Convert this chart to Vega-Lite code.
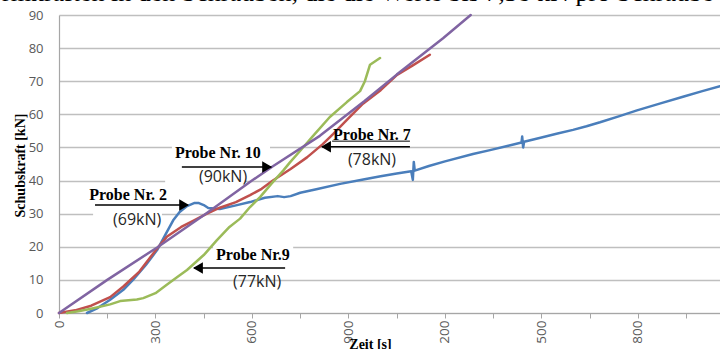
{
  "$schema": "https://vega.github.io/schema/vega-lite/v6.json",
  "width": 661,
  "height": 298,
  "autosize": {"type": "none"},
  "padding": {"left": 59, "top": 15, "right": 0, "bottom": 36},
  "background": "white",
  "config": {"view": {"stroke": null}},
  "title": {
    "text": "rmkräften in den Schrauben, die die Werte bis 7,38 kN pro Schraube",
    "anchor": "start",
    "frame": "group",
    "font": "Liberation Serif",
    "fontSize": 26,
    "fontWeight": "normal",
    "color": "black",
    "baseline": "alphabetic",
    "offset": 0,
    "dx": -57,
    "dy": 18
  },
  "datasets": {
    "curves": [
      {"probe": "Probe Nr. 2", "t": 87, "f": 0},
      {"probe": "Probe Nr. 2", "t": 120, "f": 1.5},
      {"probe": "Probe Nr. 2", "t": 159, "f": 4},
      {"probe": "Probe Nr. 2", "t": 200, "f": 7},
      {"probe": "Probe Nr. 2", "t": 230, "f": 10},
      {"probe": "Probe Nr. 2", "t": 270, "f": 14.5},
      {"probe": "Probe Nr. 2", "t": 305, "f": 19},
      {"probe": "Probe Nr. 2", "t": 330, "f": 23.5},
      {"probe": "Probe Nr. 2", "t": 355, "f": 28},
      {"probe": "Probe Nr. 2", "t": 375, "f": 30.5},
      {"probe": "Probe Nr. 2", "t": 398, "f": 32.3},
      {"probe": "Probe Nr. 2", "t": 420, "f": 33.2},
      {"probe": "Probe Nr. 2", "t": 435, "f": 33.2},
      {"probe": "Probe Nr. 2", "t": 450, "f": 32.6},
      {"probe": "Probe Nr. 2", "t": 464, "f": 31.7},
      {"probe": "Probe Nr. 2", "t": 500, "f": 31.4},
      {"probe": "Probe Nr. 2", "t": 550, "f": 32.5},
      {"probe": "Probe Nr. 2", "t": 594, "f": 33.5},
      {"probe": "Probe Nr. 2", "t": 640, "f": 34.8},
      {"probe": "Probe Nr. 2", "t": 680, "f": 35.3},
      {"probe": "Probe Nr. 2", "t": 700, "f": 35},
      {"probe": "Probe Nr. 2", "t": 720, "f": 35.3},
      {"probe": "Probe Nr. 2", "t": 750, "f": 36.3},
      {"probe": "Probe Nr. 2", "t": 800, "f": 37.4},
      {"probe": "Probe Nr. 2", "t": 874, "f": 39},
      {"probe": "Probe Nr. 2", "t": 950, "f": 40.4},
      {"probe": "Probe Nr. 2", "t": 1000, "f": 41.3},
      {"probe": "Probe Nr. 2", "t": 1050, "f": 42.1},
      {"probe": "Probe Nr. 2", "t": 1095, "f": 42.8},
      {"probe": "Probe Nr. 2", "t": 1100, "f": 40.2},
      {"probe": "Probe Nr. 2", "t": 1103, "f": 45.6},
      {"probe": "Probe Nr. 2", "t": 1106, "f": 43},
      {"probe": "Probe Nr. 2", "t": 1150, "f": 44.4},
      {"probe": "Probe Nr. 2", "t": 1200, "f": 45.8},
      {"probe": "Probe Nr. 2", "t": 1287, "f": 48},
      {"probe": "Probe Nr. 2", "t": 1340, "f": 49.2},
      {"probe": "Probe Nr. 2", "t": 1400, "f": 50.6},
      {"probe": "Probe Nr. 2", "t": 1438, "f": 51.5},
      {"probe": "Probe Nr. 2", "t": 1440, "f": 53.3},
      {"probe": "Probe Nr. 2", "t": 1443, "f": 50},
      {"probe": "Probe Nr. 2", "t": 1446, "f": 51.7},
      {"probe": "Probe Nr. 2", "t": 1500, "f": 53},
      {"probe": "Probe Nr. 2", "t": 1550, "f": 54.2},
      {"probe": "Probe Nr. 2", "t": 1598, "f": 55.3},
      {"probe": "Probe Nr. 2", "t": 1640, "f": 56.4},
      {"probe": "Probe Nr. 2", "t": 1682, "f": 57.6},
      {"probe": "Probe Nr. 2", "t": 1740, "f": 59.4},
      {"probe": "Probe Nr. 2", "t": 1797, "f": 61.2},
      {"probe": "Probe Nr. 2", "t": 1870, "f": 63.3},
      {"probe": "Probe Nr. 2", "t": 1940, "f": 65.3},
      {"probe": "Probe Nr. 2", "t": 2000, "f": 67},
      {"probe": "Probe Nr. 2", "t": 2055, "f": 68.5},

      {"probe": "Probe Nr. 7", "t": 0, "f": 0},
      {"probe": "Probe Nr. 7", "t": 50, "f": 0.8},
      {"probe": "Probe Nr. 7", "t": 100, "f": 2.2},
      {"probe": "Probe Nr. 7", "t": 159, "f": 4.8},
      {"probe": "Probe Nr. 7", "t": 200, "f": 8},
      {"probe": "Probe Nr. 7", "t": 250, "f": 12.5},
      {"probe": "Probe Nr. 7", "t": 305, "f": 19.5},
      {"probe": "Probe Nr. 7", "t": 335, "f": 23},
      {"probe": "Probe Nr. 7", "t": 380, "f": 26},
      {"probe": "Probe Nr. 7", "t": 420, "f": 28},
      {"probe": "Probe Nr. 7", "t": 460, "f": 30},
      {"probe": "Probe Nr. 7", "t": 500, "f": 31.8},
      {"probe": "Probe Nr. 7", "t": 550, "f": 33.5},
      {"probe": "Probe Nr. 7", "t": 594, "f": 35.6},
      {"probe": "Probe Nr. 7", "t": 630, "f": 37.5},
      {"probe": "Probe Nr. 7", "t": 665, "f": 40},
      {"probe": "Probe Nr. 7", "t": 720, "f": 43.5},
      {"probe": "Probe Nr. 7", "t": 771, "f": 47},
      {"probe": "Probe Nr. 7", "t": 820, "f": 51},
      {"probe": "Probe Nr. 7", "t": 852, "f": 54},
      {"probe": "Probe Nr. 7", "t": 895, "f": 58.3},
      {"probe": "Probe Nr. 7", "t": 945, "f": 63.2},
      {"probe": "Probe Nr. 7", "t": 1000, "f": 67.3},
      {"probe": "Probe Nr. 7", "t": 1051, "f": 71.9},
      {"probe": "Probe Nr. 7", "t": 1100, "f": 74.8},
      {"probe": "Probe Nr. 7", "t": 1153, "f": 78},

      {"probe": "Probe Nr.9", "t": 25, "f": 0},
      {"probe": "Probe Nr.9", "t": 60, "f": 0.5},
      {"probe": "Probe Nr.9", "t": 100, "f": 1.3},
      {"probe": "Probe Nr.9", "t": 159, "f": 2.6},
      {"probe": "Probe Nr.9", "t": 190, "f": 3.6},
      {"probe": "Probe Nr.9", "t": 242, "f": 4.1},
      {"probe": "Probe Nr.9", "t": 262, "f": 4.5},
      {"probe": "Probe Nr.9", "t": 300, "f": 6},
      {"probe": "Probe Nr.9", "t": 335, "f": 8.5},
      {"probe": "Probe Nr.9", "t": 370, "f": 11},
      {"probe": "Probe Nr.9", "t": 398, "f": 13},
      {"probe": "Probe Nr.9", "t": 450, "f": 17.5},
      {"probe": "Probe Nr.9", "t": 491, "f": 22},
      {"probe": "Probe Nr.9", "t": 530, "f": 26},
      {"probe": "Probe Nr.9", "t": 563, "f": 28.5},
      {"probe": "Probe Nr.9", "t": 594, "f": 32},
      {"probe": "Probe Nr.9", "t": 625, "f": 35},
      {"probe": "Probe Nr.9", "t": 660, "f": 39},
      {"probe": "Probe Nr.9", "t": 697, "f": 43},
      {"probe": "Probe Nr.9", "t": 718, "f": 45.5},
      {"probe": "Probe Nr.9", "t": 750, "f": 49},
      {"probe": "Probe Nr.9", "t": 790, "f": 53.5},
      {"probe": "Probe Nr.9", "t": 842, "f": 59.2},
      {"probe": "Probe Nr.9", "t": 895, "f": 63.7},
      {"probe": "Probe Nr.9", "t": 936, "f": 67},
      {"probe": "Probe Nr.9", "t": 951, "f": 70},
      {"probe": "Probe Nr.9", "t": 967, "f": 75},
      {"probe": "Probe Nr.9", "t": 998, "f": 77},

      {"probe": "Probe Nr. 10", "t": 0, "f": 0},
      {"probe": "Probe Nr. 10", "t": 150, "f": 10},
      {"probe": "Probe Nr. 10", "t": 305, "f": 19.8},
      {"probe": "Probe Nr. 10", "t": 450, "f": 29.5},
      {"probe": "Probe Nr. 10", "t": 600, "f": 40},
      {"probe": "Probe Nr. 10", "t": 665, "f": 44.3},
      {"probe": "Probe Nr. 10", "t": 811, "f": 53.5},
      {"probe": "Probe Nr. 10", "t": 950, "f": 64},
      {"probe": "Probe Nr. 10", "t": 1050, "f": 72},
      {"probe": "Probe Nr. 10", "t": 1194, "f": 83},
      {"probe": "Probe Nr. 10", "t": 1280, "f": 90}
    ],
    "boxes": [
      {"t": 351, "t2": 656, "f": 45.5, "f2": 51.5},
      {"t": 330, "t2": 578, "f": 38.5, "f2": 43.4},
      {"t": 479, "t2": 728, "f": 15.5, "f2": 22.5},
      {"t": 106, "t2": 320, "f": 26, "f2": 30.5}
    ],
    "arrows": [
      {"t": 382, "t2": 660, "f": 44.1, "w": "arrow"},
      {"t": 112, "t2": 400, "f": 32.6, "w": "arrow"},
      {"t": 420, "t2": 703, "f": 13.6, "w": "arrow"},
      {"t": 818, "t2": 1091, "f": 50.2, "w": "arrow"},
      {"t": 849, "t2": 1091, "f": 51.9, "w": "underline"}
    ],
    "heads": [
      {"t": 647, "f": 44.1, "dir": "right"},
      {"t": 389, "f": 32.6, "dir": "right"},
      {"t": 432, "f": 13.6, "dir": "left"},
      {"t": 830, "f": 50.2, "dir": "left"}
    ],
    "names": [
      {"label": "Probe Nr. 10", "t": 494, "f": 48.3},
      {"label": "Probe Nr. 2", "t": 215, "f": 35.6},
      {"label": "Probe Nr.9", "t": 603, "f": 17.5},
      {"label": "Probe Nr. 7", "t": 973, "f": 53.8}
    ],
    "values": [
      {"label": "(90kN)", "t": 510, "f": 41.1},
      {"label": "(69kN)", "t": 243, "f": 28.1},
      {"label": "(77kN)", "t": 616, "f": 9.4},
      {"label": "(78kN)", "t": 973, "f": 46.2}
    ]
  },
  "encoding": {
    "x": {
      "field": "t",
      "type": "quantitative",
      "scale": {"domain": [0, 2055], "nice": false, "zero": false},
      "axis": {
        "values": [0, 150, 300, 450, 600, 750, 900, 1050, 1200, 1350, 1500, 1650, 1800, 1950],
        "labelExpr": "datum.value % 300 == 0 ? (datum.value >= 1000 ? floor(datum.value/1000) + ' ' + format(datum.value % 1000, '03d') : '' + datum.value) : ''",
        "labelAngle": -90,
        "labelFont": "Open Sans",
        "labelFontSize": 13.5,
        "labelColor": "#595959",
        "labelPadding": 2,
        "labelOverlap": false,
        "labelBound": false,
        "labelFlush": false,
        "ticks": true,
        "tickSize": 5,
        "tickColor": "#a6a6a6",
        "domainColor": "#a6a6a6",
        "domainWidth": 1.2,
        "grid": false,
        "title": "Zeit [s]",
        "titleFont": "Liberation Serif",
        "titleFontSize": 14,
        "titleFontWeight": "bold",
        "titleColor": "black",
        "titleX": 311,
        "titleY": 35,
        "titleAlign": "center",
        "titleBaseline": "alphabetic"
      }
    },
    "y": {
      "field": "f",
      "type": "quantitative",
      "scale": {"domain": [0, 90], "nice": false, "zero": true},
      "axis": {
        "values": [0, 10, 20, 30, 40, 50, 60, 70, 80, 90],
        "grid": true,
        "gridColor": "#bfbfbf",
        "gridWidth": 1.3,
        "ticks": false,
        "domain": true,
        "domainColor": "#a6a6a6",
        "domainWidth": 1.2,
        "labelFont": "Open Sans",
        "labelFontSize": 13,
        "labelColor": "#595959",
        "labelPadding": 16,
        "title": "Schubskraft [kN]",
        "titleFont": "Liberation Serif",
        "titleFontSize": 14,
        "titleFontWeight": "bold",
        "titleColor": "black",
        "titleX": -39,
        "titleY": 150,
        "titleAlign": "center",
        "titleBaseline": "middle",
        "titleAngle": -90
      }
    }
  },
  "layer": [
    {
      "data": {"name": "boxes"},
      "mark": {"type": "rect", "color": "white", "opacity": 1},
      "encoding": {
        "x2": {"field": "t2"},
        "y2": {"field": "f2"}
      }
    },
    {
      "data": {"name": "curves"},
      "mark": {"type": "line", "strokeWidth": 2.5, "strokeJoin": "round", "strokeCap": "round"},
      "encoding": {
        "color": {
          "field": "probe",
          "type": "nominal",
          "scale": {
            "domain": ["Probe Nr. 2", "Probe Nr. 7", "Probe Nr.9", "Probe Nr. 10"],
            "range": ["#4A7EBB", "#C0504D", "#9BBB59", "#8064A2"]
          },
          "legend": null
        }
      }
    },
    {
      "data": {"name": "arrows"},
      "mark": {"type": "rule", "color": "black"},
      "encoding": {
        "x2": {"field": "t2"},
        "strokeWidth": {
          "field": "w",
          "type": "nominal",
          "scale": {"domain": ["arrow", "underline"], "range": [1.6, 1]},
          "legend": null
        }
      }
    },
    {
      "data": {"name": "heads"},
      "mark": {"type": "point", "filled": true, "color": "black", "opacity": 1, "size": 130},
      "encoding": {
        "shape": {
          "field": "dir",
          "type": "nominal",
          "scale": {"domain": ["left", "right"], "range": ["triangle-left", "triangle-right"]},
          "legend": null
        }
      }
    },
    {
      "data": {"name": "names"},
      "mark": {"type": "text", "font": "Liberation Serif", "fontSize": 16, "fontWeight": "bold", "color": "black", "baseline": "middle", "align": "center"},
      "encoding": {
        "text": {"field": "label"}
      }
    },
    {
      "data": {"name": "values"},
      "mark": {"type": "text", "font": "Open Sans", "fontSize": 16, "color": "#262626", "baseline": "middle", "align": "center"},
      "encoding": {
        "text": {"field": "label"}
      }
    }
  ]
}
